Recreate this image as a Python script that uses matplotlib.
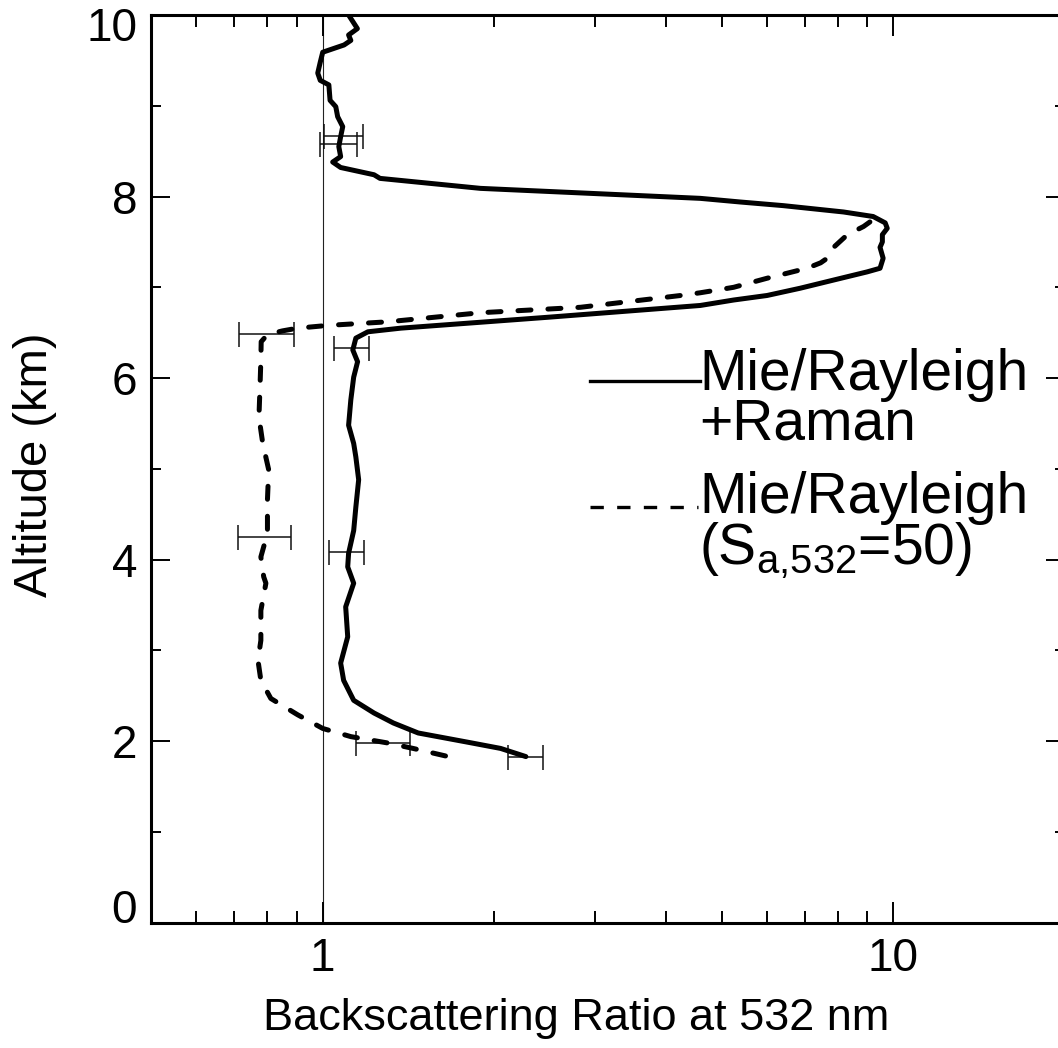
import matplotlib
matplotlib.use("Agg")
import matplotlib.pyplot as plt
from matplotlib import font_manager
from matplotlib.ticker import FixedLocator, NullFormatter, FixedFormatter
from matplotlib.transforms import ScaledTranslation

plt.rcParams["font.family"] = ["Liberation Sans", "DejaVu Sans"]
plt.rcParams["mathtext.fontset"] = "custom"
plt.rcParams["mathtext.rm"] = "Liberation Sans"

# Mie/Rayleigh + Raman profile (altitude km, backscatter ratio)
raman_alt = [10.00, 9.85, 9.78, 9.72, 9.67, 9.59, 9.48, 9.36, 9.28, 9.23, 9.06, 8.99,
             8.88, 8.77, 8.66, 8.55, 8.44, 8.38, 8.32, 8.24, 8.20, 8.09, 8.04, 7.98,
             7.94, 7.90, 7.83, 7.78, 7.71, 7.65, 7.58, 7.50, 7.44, 7.32, 7.21, 7.17,
             7.08, 6.99, 6.91, 6.86, 6.80, 6.67, 6.55, 6.51, 6.44, 6.31, 6.18, 6.01,
             5.76, 5.48, 5.28, 5.13, 4.88, 4.58, 4.32, 4.07, 3.92, 3.74, 3.48, 3.15,
             2.86, 2.67, 2.45, 2.31, 2.20, 2.09, 1.99, 1.92, 1.83]
raman_bsr = [1.11, 1.15, 1.11, 1.12, 1.09, 1.00, 0.99, 0.98, 0.99, 1.025, 1.03, 1.054,
             1.062, 1.084, 1.075, 1.067, 1.075, 1.041, 1.075, 1.23, 1.26, 1.89, 2.83, 4.59,
             5.39, 6.41, 8.18, 9.22, 9.68, 9.76, 9.57, 9.57, 9.48, 9.60, 9.48, 9.00,
             7.86, 6.87, 6.01, 5.25, 4.59, 2.48, 1.37, 1.20, 1.143, 1.129, 1.151, 1.133,
             1.12, 1.11, 1.133, 1.143, 1.156, 1.143, 1.133, 1.11, 1.106, 1.133, 1.097, 1.106,
             1.075, 1.088, 1.133, 1.23, 1.33, 1.47, 1.79, 2.05, 2.27]

# Mie/Rayleigh with fixed lidar ratio S = 50
klett_alt = [7.72, 7.67, 7.58, 7.44, 7.33, 7.27, 7.21, 7.10, 7.00, 6.94, 6.91, 6.78,
             6.72, 6.62, 6.60, 6.58, 6.55, 6.52, 6.48, 6.40, 6.20, 5.87, 5.57, 5.28,
             4.99, 4.66, 4.29, 4.03, 3.81, 3.74, 3.44, 3.11, 2.89, 2.67, 2.47, 2.29,
             2.14, 2.05, 1.98, 1.92, 1.83]
klett_bsr = [9.10, 8.87, 8.31, 7.86, 7.70, 7.46, 7.06, 6.01, 5.25, 4.59, 4.24, 2.83,
             1.89, 1.30, 1.15, 1.02, 0.904, 0.85, 0.80, 0.78, 0.779, 0.776, 0.773, 0.785,
             0.804, 0.80, 0.80, 0.779, 0.788, 0.795, 0.779, 0.779, 0.77, 0.779, 0.811, 0.904,
             1.00, 1.12, 1.30, 1.44, 1.66]

# error ranges (altitude, lower bound, upper bound)
raman_err_alt = [8.67, 8.58, 6.33, 4.08, 1.83]
raman_err_lo = [1.004, 0.99, 1.045, 1.024, 2.11]
raman_err_hi = [1.175, 1.15, 1.204, 1.18, 2.43]
klett_err_alt = [6.49, 4.25, 1.98]
klett_err_lo = [0.713, 0.71, 1.143]
klett_err_hi = [0.89, 0.88, 1.42]

x_ticks = [1, 10]
x_ticklabels = ["1", "10"]
x_minor = [0.6, 0.7, 0.8, 0.9, 2, 3, 4, 5, 6, 7, 8, 9, 20]
y_ticks = [0, 2, 4, 6, 8, 10]
y_minor = [1, 3, 5, 7, 9]

W, H = 1058, 1048
fig = plt.figure(figsize=(W / 100, H / 100), dpi=100)
ax = fig.add_axes([151 / W, 125.3 / H, 914 / W, 907.7 / H])

ax.set_xscale("log")
ax.set_xlim(0.5, 20)
ax.set_ylim(0, 10)

ax.axvline(1, color="#222222", lw=0.8, zorder=1)

ax.plot(raman_bsr, raman_alt, color="black", lw=3.6, solid_joinstyle="round",
        solid_capstyle="round", zorder=3)
ax.plot(klett_bsr, klett_alt, color="black", lw=3.6, dashes=(2.6, 3.4),
        dash_capstyle="round", zorder=3)


def draw_err(alt, lo, hi):
    mid = [(a + b) / 2 for a, b in zip(lo, hi)]
    xerr = [[m - a for m, a in zip(mid, lo)], [b - m for m, b in zip(mid, hi)]]
    ax.errorbar(mid, alt, xerr=xerr, fmt="none", ecolor="#111111", elinewidth=1.1,
                capsize=9, capthick=1.1, zorder=2)


draw_err(raman_err_alt, raman_err_lo, raman_err_hi)
draw_err(klett_err_alt, klett_err_lo, klett_err_hi)

# axes frame and ticks
for s in ax.spines.values():
    s.set_linewidth(2.2)
ax.xaxis.set_major_locator(FixedLocator(x_ticks))
ax.xaxis.set_major_formatter(FixedFormatter(x_ticklabels))
ax.xaxis.set_minor_locator(FixedLocator(x_minor))
ax.xaxis.set_minor_formatter(NullFormatter())
ax.yaxis.set_major_locator(FixedLocator(y_ticks))
ax.yaxis.set_minor_locator(FixedLocator(y_minor))
ax.tick_params(axis="both", which="both", direction="in", top=True, right=True,
               width=1.4, labelsize=33)
ax.tick_params(axis="x", which="major", length=15, pad=10)
ax.tick_params(axis="x", which="minor", length=8.6)
ax.tick_params(axis="y", which="major", length=13.7, pad=10)
ax.tick_params(axis="y", which="minor", length=7.2)
ylabels = ax.get_yticklabels()
ylabels[0].set_va("baseline")
ylabels[-1].set_va("top")
ylabels[-1].set_transform(ylabels[-1].get_transform()
                          + ScaledTranslation(0, 6 / 72, fig.dpi_scale_trans))

# axis titles
names = {f.name for f in font_manager.fontManager.ttflist}
if "Liberation Sans Narrow" in names:
    xl_font, xl_size = "Liberation Sans Narrow", 38
else:
    xl_font, xl_size = "Liberation Sans", 32.5
fig.text(576 / W, 1 - 1030 / H, "Backscattering Ratio at 532 nm", family=xl_font,
         size=xl_size, ha="center", va="baseline")
fig.text(35 / W, 1 - 465 / H, "Altitude (km)", size=34, rotation=90,
         ha="center", va="center")

# legend keys
ax.plot([0.480, 0.601], [0.5968, 0.5968], transform=ax.transAxes, color="black",
        lw=2.4, clip_on=False)
ax.plot([0.480, 0.598], [0.458, 0.458], transform=ax.transAxes, color="black",
        lw=2.4, dashes=(4, 4), clip_on=False)
leg_kw = dict(transform=ax.transAxes, size=41, ha="left", va="top",
              linespacing=0.87)
ax.text(0.5996, 0.6326, "Mie/Rayleigh\n+Raman", **leg_kw)
ax.text(0.5996, 0.4971, "Mie/Rayleigh\n" + r"(S$_{\mathregular{a{,}532}}$=50)",
        **leg_kw)

fig.savefig("out.png", dpi=100)
